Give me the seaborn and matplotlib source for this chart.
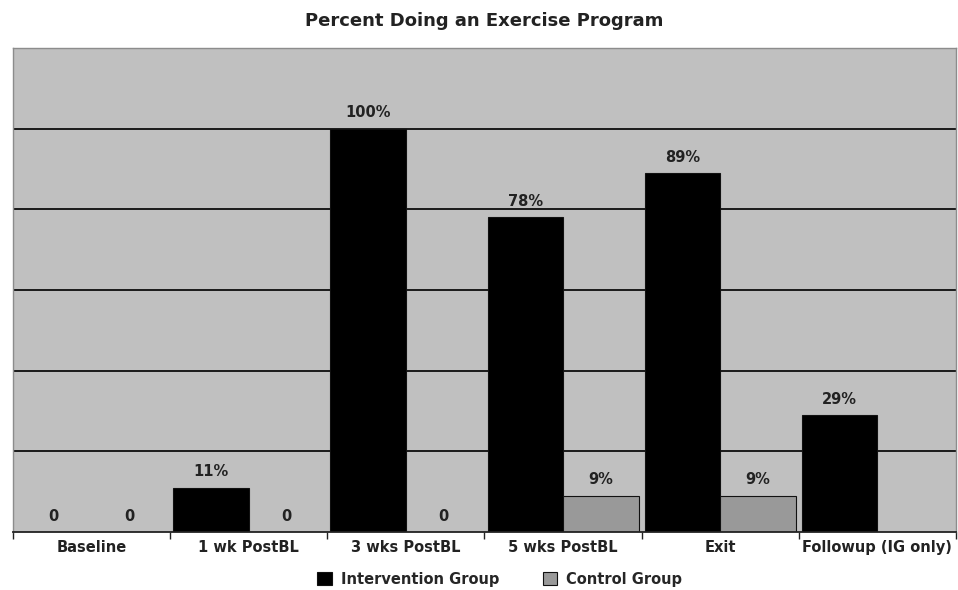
import matplotlib
matplotlib.use("Agg")
import matplotlib.pyplot as plt
import seaborn as sns
import pandas as pd
import numpy as np

# values
categories = ["Baseline", "1 wk PostBL", "3 wks PostBL", "5 wks PostBL", "Exit", "Followup (IG only)"]
intervention = [0, 11, 100, 78, 89, 29]
control = [0, 0, 0, 9, 9, np.nan]
groups = ["Intervention Group", "Control Group"]

df = pd.DataFrame({
    "Time": categories * 2,
    "Group": [groups[0]] * len(categories) + [groups[1]] * len(categories),
    "Percent": intervention + control,
})

sns.set_theme(style="white")
plt.rcParams['font.family'] = ['DejaVu Sans']

fig = plt.figure(figsize=(9.58, 5.9), dpi=100)
ax = fig.add_axes([13 / 958, 58 / 590, 943 / 958, 484 / 590])
ax.set_facecolor("#c0c0c0")

sns.barplot(data=df, x="Time", y="Percent", hue="Group", order=categories,
            hue_order=groups, palette=["#000000", "#999999"], width=0.96,
            edgecolor="#111111", linewidth=0.8, saturation=1, ax=ax, legend=True)

ax.set_ylim(0, 120)
ax.set_yticks([20, 40, 60, 80, 100])
ax.set_yticklabels([])
ax.tick_params(axis="y", length=0)
ax.yaxis.grid(True, color="#1a1a1a", linewidth=1.4)
ax.set_axisbelow(True)
ax.set_xlim(-0.5, len(categories) - 0.5)

# ticks on category boundaries, labels in the middle
ax.set_xticks(np.arange(-0.5, len(categories), 1.0))
ax.set_xticklabels([])
ax.set_xticks(range(len(categories)), minor=True)
ax.set_xticklabels(categories, minor=True, fontsize=10.5, fontweight="bold", color="#222222")
ax.tick_params(axis="x", which="major", length=5, width=1, color="#222222", direction="out", bottom=True)
ax.tick_params(axis="x", which="minor", length=0, pad=6)

ax.set_xlabel("")
ax.set_ylabel("")

for side in ["left", "top", "right"]:
    ax.spines[side].set_color("#8c8c8c")
    ax.spines[side].set_linewidth(1)
ax.spines["bottom"].set_color("#222222")
ax.spines["bottom"].set_linewidth(1.3)

# value labels above each bar (skip the missing control bar)
for cont, vals in zip(ax.containers, [intervention, control]):
    for bar, v in zip(cont, vals):
        if bar is None or np.isnan(v):
            continue
        txt = "0" if v == 0 else f"{v:.0f}%"
        ax.annotate(txt, (bar.get_x() + bar.get_width() / 2, bar.get_height()),
                    xytext=(0, 6), textcoords="offset points", ha="center", va="bottom",
                    fontsize=10.5, fontweight="bold", color="#222222")

ax.set_title("Percent Doing an Exercise Program", fontsize=13, fontweight="bold",
             color="#222222", pad=16)

ax.legend(loc="upper center", bbox_to_anchor=(0.516, -0.055), ncol=2, frameon=False,
          handlelength=1.0, handleheight=1.0, columnspacing=3.0, handletextpad=0.6,
          prop={"weight": "bold", "size": 10.5})

fig.savefig("out.png", dpi=100)
